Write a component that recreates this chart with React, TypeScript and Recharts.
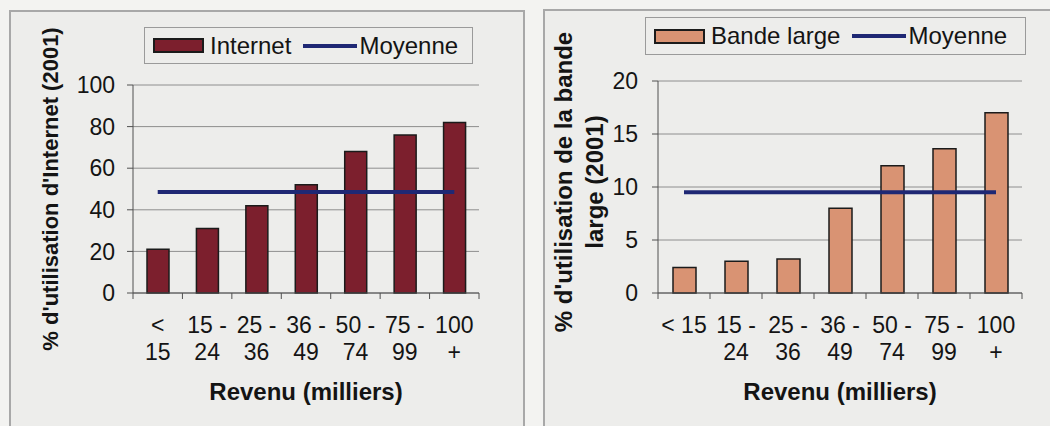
import React from 'react';
import { ComposedChart, Bar, Line, XAxis, YAxis, CartesianGrid, Legend } from 'recharts';

// Revenu brackets (thousands); "\n" splits a tick label over two lines
const revenuInternet = ['<\n15', '15 -\n24', '25 -\n36', '36 -\n49', '50 -\n74', '75 -\n99', '100\n+'];
const revenuBandeLarge = ['< 15', '15 -\n24', '25 -\n36', '36 -\n49', '50 -\n74', '75 -\n99', '100\n+'];

// % using the Internet / broadband in 2001
const internetValues = [21, 31, 42, 52, 68, 76, 82];
const internetMoyenne = 48.5;
const bandeLargeValues = [2.4, 3.0, 3.2, 8.0, 12.0, 13.6, 17.0];
const bandeLargeMoyenne = 9.5;

const internetTicks = [0, 20, 40, 60, 80, 100];
const bandeLargeTicks = [0, 5, 10, 15, 20];

const FONT = '"Liberation Sans", Arial, Helvetica, sans-serif';
const INK = '#141414';
const AXIS = '#505050';
const GRID = '#8e8e8e';
const MOYENNE = '#1f2874';

const internetData = revenuInternet.map((revenu, i) => ({
  revenu,
  internet: internetValues[i],
  moyenne: internetMoyenne,
}));

const bandeLargeData = revenuBandeLarge.map((revenu, i) => ({
  revenu,
  bande: bandeLargeValues[i],
  moyenne: bandeLargeMoyenne,
}));

// category tick: Excel-style marks between the categories plus a 1-2 line label
function RevenuTick(props: any) {
  const { x, y, payload, index, visibleTicksCount } = props;
  const half = payload?.offset ?? 0;
  const lines = String(payload.value).split('\n');
  const last = index === visibleTicksCount - 1;
  return (
    <g>
      <line x1={x - half} x2={x - half} y1={y} y2={y + 6} stroke={AXIS} strokeWidth={1} />
      {last && <line x1={x + half} x2={x + half} y1={y} y2={y + 6} stroke={AXIS} strokeWidth={1} />}
      {lines.map((l, i) => (
        <text key={i} x={x} y={y + 40 + i * 27} textAnchor="middle" fontSize={23} fill={INK} fontFamily={FONT}>
          {l}
        </text>
      ))}
    </g>
  );
}

function ValueTick(props: any) {
  const { x, y, payload } = props;
  return (
    <text x={x} y={y} dy="0.36em" textAnchor="end" fontSize={23} fill={INK} fontFamily={FONT}>
      {payload.value}
    </text>
  );
}

function yTitle(lines: string[], xs: number[], cy: number, size: number) {
  return () => (
    <g>
      {lines.map((l, i) => (
        <text
          key={i}
          transform={`translate(${xs[i]},${cy}) rotate(-90)`}
          dy="0.35em"
          textAnchor="middle"
          fontSize={size}
          fontWeight="bold"
          fill={INK}
          fontFamily={FONT}
        >
          {l}
        </text>
      ))}
    </g>
  );
}

function legendBox(props: any) {
  const { payload } = props;
  return (
    <div
      style={{
        boxSizing: 'border-box',
        width: '100%',
        height: '100%',
        border: '1.5px solid #9a9a9a',
        display: 'flex',
        alignItems: 'center',
        paddingLeft: 8,
        fontFamily: FONT,
        fontSize: 24,
        color: INK,
      }}
    >
      {payload.map((entry: any, i: number) => (
        <div key={i} style={{ display: 'flex', alignItems: 'center', marginLeft: i === 0 ? 0 : 12 }}>
          {entry.type === 'line' ? (
            <span style={{ width: 54, height: 4, background: entry.color, marginRight: 2 }} />
          ) : (
            <span
              style={{
                boxSizing: 'border-box',
                width: 51,
                height: 15,
                background: entry.color,
                border: '2px solid #1b1b1b',
                marginRight: 6,
              }}
            />
          )}
          <span style={{ lineHeight: '24px' }}>{entry.value}</span>
        </div>
      ))}
    </div>
  );
}

const xTitle = {
  value: 'Revenu (milliers)',
  position: 'insideBottom' as const,
  offset: 3,
  style: { fontSize: 24, fontWeight: 'bold', fill: INK, fontFamily: FONT },
};

function InternetChart() {
  return (
    <ComposedChart width={525} height={426} data={internetData} margin={{ top: 85, right: 46, bottom: 23, left: 73 }}>
      <CartesianGrid vertical={false} stroke={GRID} />
      <XAxis
        dataKey="revenu"
        interval={0}
        height={110}
        tickSize={0}
        tickMargin={0}
        tickLine={false}
        axisLine={{ stroke: AXIS }}
        tick={<RevenuTick />}
        label={xTitle}
      />
      <XAxis xAxisId="frame" orientation="top" height={0} tick={false} tickLine={false} axisLine={{ stroke: AXIS }} />
      <YAxis
        domain={[0, 100]}
        ticks={internetTicks}
        interval={0}
        width={60}
        tickSize={6}
        tickMargin={12}
        tick={<ValueTick />}
        axisLine={{ stroke: AXIS }}
        tickLine={{ stroke: AXIS }}
        label={yTitle(["% d'utilisation d'Internet (2001)"], [50], 189, 22)}
      />
      <YAxis yAxisId="frame" orientation="right" width={0} tick={false} tickLine={false} axisLine={{ stroke: AXIS }} />
      <Legend
        layout="horizontal"
        verticalAlign="middle"
        align="center"
        content={legendBox}
        wrapperStyle={{ left: 144, top: 27, width: 329, height: 37 }}
      />
      <Bar dataKey="internet" name="Internet" fill="#7c1f2d" stroke="#1b1b1b" strokeWidth={1.5} barSize={22} isAnimationActive={false} />
      <Line
        dataKey="moyenne"
        name="Moyenne"
        type="linear"
        stroke={MOYENNE}
        strokeWidth={4}
        dot={false}
        activeDot={false}
        legendType="line"
        isAnimationActive={false}
      />
    </ComposedChart>
  );
}

function BandeLargeChart() {
  return (
    <ComposedChart width={525} height={426} data={bandeLargeData} margin={{ top: 81, right: 28, bottom: 23, left: 73 }}>
      <CartesianGrid vertical={false} stroke={GRID} />
      <XAxis
        dataKey="revenu"
        interval={0}
        height={110}
        tickSize={0}
        tickMargin={0}
        tickLine={false}
        axisLine={{ stroke: AXIS }}
        tick={<RevenuTick />}
        label={xTitle}
      />
      <YAxis
        domain={[0, 20]}
        ticks={bandeLargeTicks}
        interval={0}
        width={60}
        tickSize={6}
        tickMargin={14}
        tick={<ValueTick />}
        axisLine={{ stroke: AXIS }}
        tickLine={{ stroke: AXIS }}
        label={yTitle(["% d'utilisation de la bande", 'large (2001)'], [39, 70], 182, 24)}
      />
      <Legend
        layout="horizontal"
        verticalAlign="middle"
        align="center"
        content={legendBox}
        wrapperStyle={{ left: 120, top: 17, width: 381, height: 38 }}
      />
      <Bar dataKey="bande" name="Bande large" fill="#d99373" stroke="#1b1b1b" strokeWidth={1.5} barSize={23} isAnimationActive={false} />
      <Line
        dataKey="moyenne"
        name="Moyenne"
        type="linear"
        stroke={MOYENNE}
        strokeWidth={4}
        dot={false}
        activeDot={false}
        legendType="line"
        isAnimationActive={false}
      />
    </ComposedChart>
  );
}

export default function App() {
  return (
    <div
      style={{
        position: 'absolute',
        left: 0,
        top: 0,
        width: 1050,
        height: 426,
        overflow: 'hidden',
        background: '#f3f3f1',
        fontFamily: FONT,
      }}
    >
      <div
        style={{
          position: 'absolute',
          left: 9,
          top: 10,
          width: 512,
          height: 440,
          border: '2px solid #a8a8a8',
          background: '#ededeb',
        }}
      />
      <div
        style={{
          position: 'absolute',
          left: 543,
          top: 9,
          width: 540,
          height: 440,
          border: '2px solid #a8a8a8',
          background: '#ededeb',
        }}
      />
      <div style={{ position: 'absolute', left: 0, top: 0 }}>
        <InternetChart />
      </div>
      <div style={{ position: 'absolute', left: 525, top: 0 }}>
        <BandeLargeChart />
      </div>
    </div>
  );
}
